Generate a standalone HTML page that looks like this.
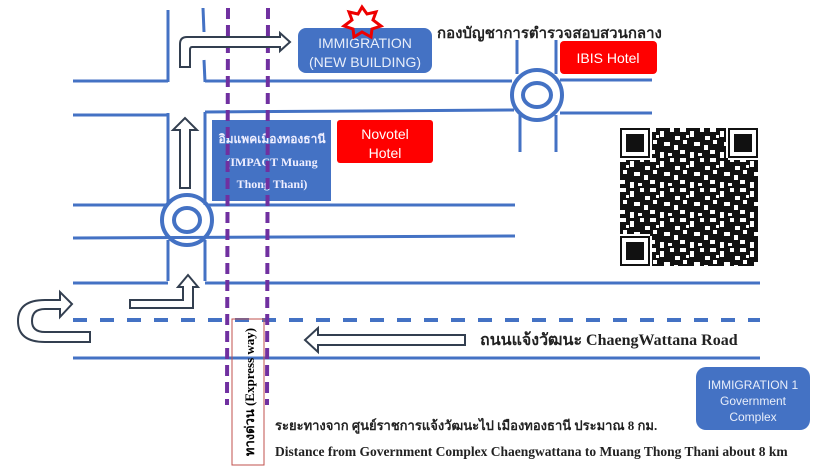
<!DOCTYPE html>
<html><head><meta charset="utf-8"><style>
html,body{margin:0;padding:0;background:#fff;width:831px;height:468px;overflow:hidden}
svg{display:block}
text{font-family:"Liberation Serif","Noto Serif CJK SC",serif}
.s{font-family:"Liberation Sans","DejaVu Sans",sans-serif}
</style></head><body>
<svg width="831" height="468" viewBox="0 0 831 468" xmlns="http://www.w3.org/2000/svg">
<defs>
<pattern id="qr" x="620" y="128" width="30" height="30" patternUnits="userSpaceOnUse">
<rect width="30" height="30" fill="#111"/>
<g fill="#fff">
<rect x="0" y="0" width="6" height="4"/><rect x="10" y="3" width="4" height="6"/><rect x="20" y="0" width="4" height="4"/><rect x="25" y="8" width="5" height="4"/>
<rect x="3" y="12" width="4" height="4"/><rect x="14" y="14" width="6" height="4"/><rect x="24" y="17" width="4" height="5"/><rect x="0" y="22" width="5" height="4"/>
<rect x="10" y="24" width="4" height="6"/><rect x="18" y="25" width="4" height="3"/><rect x="6" y="7" width="3" height="3"/>
</g></pattern>
</defs>
<g stroke="#4472c4" stroke-width="3" fill="none">
<line x1="73" y1="81" x2="168" y2="81"/><line x1="205" y1="81" x2="512" y2="81"/><line x1="560" y1="80" x2="652" y2="80"/>
<line x1="73" y1="115" x2="168" y2="115"/><line x1="205" y1="112" x2="514" y2="110"/><line x1="560" y1="113" x2="652" y2="113"/>
<line x1="168" y1="10" x2="168" y2="82"/><line x1="203" y1="8" x2="204" y2="32"/><line x1="204" y1="60" x2="205" y2="82"/>
<line x1="168" y1="113" x2="168" y2="205"/><line x1="205" y1="112" x2="205" y2="205"/>
<line x1="517" y1="40" x2="517" y2="74"/><line x1="556" y1="40" x2="556" y2="74"/>
<line x1="520" y1="115" x2="520" y2="152"/><line x1="556" y1="115" x2="556" y2="152"/>
<circle cx="537" cy="95" r="25" stroke-width="4"/><ellipse cx="537" cy="95" rx="14" ry="12" stroke-width="4"/>
<line x1="73" y1="205" x2="168" y2="205"/><line x1="207" y1="205" x2="515" y2="205"/>
<line x1="73" y1="238" x2="515" y2="236"/>
<circle cx="187" cy="220" r="25" stroke-width="4"/><ellipse cx="187" cy="220" rx="13" ry="12" stroke-width="4"/>
<line x1="168" y1="240" x2="168" y2="281"/><line x1="205" y1="240" x2="205" y2="281"/>
<line x1="73" y1="283" x2="168" y2="283"/><line x1="205" y1="283" x2="760" y2="283"/>
<line x1="73" y1="320" x2="760" y2="320" stroke-width="4" stroke-dasharray="14 13"/>
<line x1="73" y1="358" x2="760" y2="358"/>
</g>
<rect x="298" y="28" width="134" height="45" rx="8" fill="#4472c4"/>
<text x="365" y="48" text-anchor="middle" class="s" font-size="14" fill="#e8eefa">IMMIGRATION</text>
<text x="365" y="67" text-anchor="middle" class="s" font-size="14" fill="#e8eefa">(NEW BUILDING)</text>
<polygon points="362,7 367,14 376,12 373,20 381,26 372,29 371,37 362,32 354,37 353,29 344,26 352,20 349,12 358,14" fill="none" stroke="#e00" stroke-width="3"/>
<rect x="560" y="41" width="97" height="33" rx="4" fill="#ff0000"/>
<text x="608" y="63" text-anchor="middle" class="s" font-size="14" fill="#fff">IBIS Hotel</text>
<rect x="212" y="120" width="119" height="81" fill="#4472c4"/>
<text x="272" y="143" text-anchor="middle" font-size="12" font-weight="bold" fill="#eef">อิมแพคเมืองทองธานี</text>
<text x="272" y="166" text-anchor="middle" font-size="12" font-weight="bold" fill="#eef">(IMPACT Muang</text>
<text x="272" y="188" text-anchor="middle" font-size="12" font-weight="bold" fill="#eef">Thong Thani)</text>
<rect x="337" y="120" width="96" height="43" rx="3" fill="#ff0000"/>
<text x="385" y="139" text-anchor="middle" class="s" font-size="14" fill="#fff">Novotel</text>
<text x="385" y="158" text-anchor="middle" class="s" font-size="14" fill="#fff">Hotel</text>
<g stroke="#7030a0" stroke-width="4" stroke-dasharray="11 6"><line x1="228" y1="8" x2="227" y2="405"/><line x1="268" y1="8" x2="267" y2="405"/></g>
<rect x="232" y="319" width="32" height="146" fill="none" stroke="#c0504d" stroke-width="1"/>
<text transform="translate(254,392) rotate(-90)" text-anchor="middle" font-size="13" font-weight="bold">ทางด่วน (Express way)</text>
<g fill="#fff" stroke="#333f50" stroke-width="2">
<path d="M180,67 L180,44 Q180,37 187,37 L280,37 L280,33 L290,42 L280,51 L280,47 L192,47 Q190,47 190,50 L190,67 Z"/>
<path d="M180,188 L180,130 L173,130 L185,118 L197,130 L190,130 L190,188 Z"/>
<path d="M130,308 L130,300 L183,300 L183,287 L178,287 L188,275 L198,287 L193,287 L193,308 Z"/>
<path d="M90,342 L90,332 L45,332 Q32,332 32,321 Q32,309 45,309 L60,309 L60,317 L72,304 L60,292 L60,300 L45,300 Q18,300 18,321 Q18,342 45,342 Z"/>
<path d="M305,340 L318,328 L318,335 L465,335 L465,345 L318,345 L318,352 Z"/>
</g>
<text x="480" y="345" font-size="16" font-weight="bold" fill="#222">ถนนแจ้งวัฒนะ ChaengWattana Road</text>
<text x="437" y="38" font-size="15" font-weight="bold" fill="#222">กองบัญชาการตำรวจสอบสวนกลาง</text>
<text x="275" y="430" font-size="13" font-weight="bold" fill="#222">ระยะทางจาก ศูนย์ราชการแจ้งวัฒนะไป เมืองทองธานี ประมาณ 8 กม.</text>
<text x="275" y="456" font-size="13.5" font-weight="bold" fill="#222">Distance from Government Complex Chaengwattana to Muang Thong Thani about 8 km</text>
<rect x="696" y="367" width="114" height="63" rx="10" fill="#4472c4"/>
<text x="753" y="389" text-anchor="middle" class="s" font-size="12" fill="#e8eefa">IMMIGRATION  1</text>
<text x="753" y="405" text-anchor="middle" class="s" font-size="12" fill="#e8eefa">Government</text>
<text x="753" y="421" text-anchor="middle" class="s" font-size="12" fill="#e8eefa">Complex</text>
<g>
<rect x="620" y="128" width="138" height="138" fill="url(#qr)"/>
<g fill="#111"><rect x="620" y="128" width="30" height="30"/><rect x="728" y="128" width="30" height="30"/><rect x="620" y="236" width="30" height="30"/></g>
<g fill="none" stroke="#fff" stroke-width="4">
<rect x="624" y="132" width="22" height="22"/><rect x="732" y="132" width="22" height="22"/><rect x="624" y="240" width="22" height="22"/>
</g>
<g fill="#fff"><rect x="650" y="128" width="2" height="30"/><rect x="726" y="128" width="2" height="30"/><rect x="620" y="158" width="30" height="2"/><rect x="728" y="158" width="30" height="2"/><rect x="650" y="236" width="2" height="30"/><rect x="620" y="234" width="30" height="2"/></g>
</g>
</svg>
</body></html>
